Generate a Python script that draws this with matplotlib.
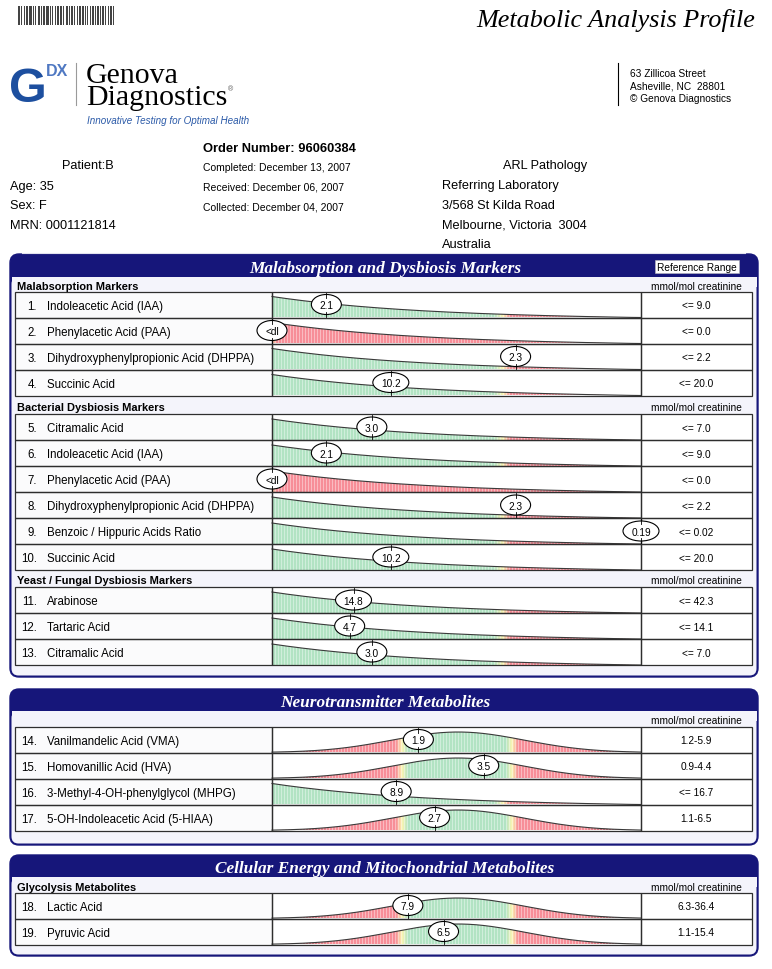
import numpy as np
import matplotlib
matplotlib.use("Agg")
import matplotlib.pyplot as plt
from matplotlib.patches import Rectangle, Ellipse, Polygon, FancyBboxPatch

# --- report data ---
mal_names = ["Indoleacetic Acid (IAA)", "Phenylacetic Acid (PAA)",
             "Dihydroxyphenylpropionic Acid (DHPPA)", "Succinic Acid"]
mal_results = [2.1, np.nan, 2.3, 10.2]
mal_low = [None, None, None, None]
mal_high = [9.0, 0.0, 2.2, 20.0]

bac_names = ["Citramalic Acid", "Indoleacetic Acid (IAA)", "Phenylacetic Acid (PAA)",
             "Dihydroxyphenylpropionic Acid (DHPPA)", "Benzoic / Hippuric Acids Ratio",
             "Succinic Acid"]
bac_results = [3.0, 2.1, np.nan, 2.3, 0.19, 10.2]
bac_low = [None] * 6
bac_high = [7.0, 9.0, 0.0, 2.2, 0.02, 20.0]

yst_names = ["Arabinose", "Tartaric Acid", "Citramalic Acid"]
yst_results = [14.8, 4.7, 3.0]
yst_low = [None] * 3
yst_high = [42.3, 14.1, 7.0]

neu_names = ["Vanilmandelic Acid (VMA)", "Homovanillic Acid (HVA)",
             "3-Methyl-4-OH-phenylglycol (MHPG)", "5-OH-Indoleacetic Acid (5-HIAA)"]
neu_results = [1.9, 3.5, 8.9, 2.7]
neu_low = [1.2, 0.9, None, 1.1]
neu_high = [5.9, 4.4, 16.7, 6.5]

gly_names = ["Lactic Acid", "Pyruvic Acid"]
gly_results = [7.9, 6.5]
gly_low = [6.3, 1.1]
gly_high = [36.4, 15.4]

# --- layout (pixels, y down) ---
W, H = 772, 970
ROW_H = 26
BAR_L, BAR_R = 272, 641
TAB_L, REF_R = 15, 752
UP_X = 505            # pixel of the upper limit on "<=" rows
TAIL_X = 638          # where the "<=" curve meets the baseline
LO_X, HI_X = 402, 512  # pixels of range limits
MID_X = 458
NAVY = "#16167a"
BODY = "#f4f4fb"
SANS = ["Liberation Sans", "DejaVu Sans"]
SERIF = ["Liberation Serif", "DejaVu Serif"]

GREEN = np.array([178, 227, 195]) / 255
YELLOW = np.array([252, 246, 178]) / 255
RED = np.array([247, 142, 152]) / 255
DARK = np.array([140, 64, 72]) / 255

fig = plt.figure(figsize=(W / 100, H / 100), dpi=100)
ax = fig.add_axes([0, 0, 1, 1])


def put(x, yc, s, size, cap=0.716, **kw):
    # place text so the middle of its capitals sits on yc
    kw.setdefault("family", SANS)
    kw.setdefault("color", "black")
    base = yc + size * 100 / 72 * cap / 2
    ax.text(x, base, s, fontsize=size, va="baseline", **kw)


def fmt(v):
    return f"{v:.2f}" if 0 < v < 0.1 else f"{v:.1f}"


def ramp(xs, stops):
    px = [s[0] for s in stops]
    out = np.stack([np.interp(xs, px, [s[1][k] for s in stops]) for k in range(3)], axis=-1)
    light = (np.arange(len(xs)) % 3) == 0
    out[light] = out[light] * 0.6 + 0.4
    return out


def draw_bar(top, lo, hi, val):
    bot = top + ROW_H
    cy = top + ROW_H / 2
    xs = np.arange(BAR_L, BAR_R + 1, 1.0)
    if lo is None:
        d = np.clip(xs - BAR_L, 0, TAIL_X - BAR_L)
        span = TAIL_X - BAR_L
        h = (ROW_H - 5) * (np.exp(-d / 145) - np.exp(-span / 145) * d / span)
        xt = UP_X if hi > 0 else BAR_L
        stops = [(xt - 11, GREEN), (xt - 2, YELLOW), (xt + 5, RED), (580, RED), (TAIL_X, DARK)]
        if np.isnan(val):
            vx = BAR_L
        elif hi <= 0:
            vx = BAR_R
        else:
            vx = min(BAR_L + val / hi * (UP_X - BAR_L), BAR_R)
    else:
        h = (ROW_H - 5.5) * np.exp(-(xs - MID_X) ** 2 / (2 * 66 ** 2))
        stops = [(280, DARK), (330, RED), (LO_X - 6, RED), (LO_X, YELLOW), (LO_X + 6, GREEN),
                 (HI_X - 6, GREEN), (HI_X, YELLOW), (HI_X + 6, RED), (585, RED), (630, DARK)]
        vx = float(np.clip(LO_X + (val - lo) / (hi - lo) * (HI_X - LO_X), BAR_L, BAR_R))
    ytop = bot - h
    poly = Polygon([(BAR_L, bot)] + list(zip(xs, ytop)) + [(BAR_R, bot)],
                   closed=True, fc="none", ec="none")
    ax.add_patch(poly)
    cols = ramp(xs[:-1] + 0.5, stops)
    im = ax.imshow(cols[None], extent=(BAR_L, BAR_R, bot, top), aspect="auto",
                   interpolation="nearest", zorder=2)
    im.set_clip_path(poly)
    ax.plot(xs, ytop, color="#3a3a3a", lw=0.8, zorder=3)

    label = "<dl" if np.isnan(val) else (f"{val:.2f}" if val < 1 else f"{val:.1f}")
    w = 12 + 6 * len(label)
    ax.add_patch(Ellipse((vx, cy), w, 20, fc="white", ec="black", lw=0.8, zorder=5))
    ax.plot([vx, vx], [cy - 12, cy - 7], color="black", lw=0.6, zorder=6)
    ax.plot([vx, vx], [cy + 7, cy + 12], color="black", lw=0.6, zorder=6)
    put(vx, cy, label, 7.3, ha="center", zorder=7)


def rows(first_top, start_no, names, results, lows, highs):
    for i, (name, val, lo, hi) in enumerate(zip(names, results, lows, highs)):
        top = first_top + i * ROW_H
        cy = top + ROW_H / 2
        ax.add_patch(Rectangle((TAB_L, top), BAR_L - TAB_L, ROW_H, fc="#fbfbfc", ec="none", zorder=1))
        ax.add_patch(Rectangle((BAR_L, top), REF_R - BAR_L, ROW_H, fc="white", ec="none", zorder=1))
        for x0, x1 in [(TAB_L, BAR_L), (BAR_L, BAR_R), (BAR_R, REF_R)]:
            ax.add_patch(Rectangle((x0, top), x1 - x0, ROW_H, fc="none", ec="#2e2e2e", lw=0.9, zorder=4))
        put(37, cy, f"{start_no + i}.", 8.3, ha="right")
        put(47, cy, name, 8.3)
        ref = f"<= {fmt(hi)}" if lo is None else f"{fmt(lo)}-{fmt(hi)}"
        put(696, cy, ref, 7.3, ha="center")
        draw_bar(top, lo, hi, val)


def group_head(y, text):
    if text:
        put(17, y, text, 7.9, weight="bold")
    put(696, y, "mmol/mol creatinine", 7.3, ha="center")


def section(top, hdr_bot, bottom, title):
    ax.add_patch(FancyBboxPatch((10, top), 748, bottom - top,
                                boxstyle="round,pad=0,rounding_size=9", fc=NAVY, ec=NAVY, lw=1.0))
    ax.add_patch(FancyBboxPatch((11.5, hdr_bot), 745, bottom - hdr_bot - 1.5,
                                boxstyle="round,pad=0,rounding_size=7", fc=BODY, ec="none"))
    ax.add_patch(Rectangle((11.5, hdr_bot), 745, 10, fc=BODY, ec="none"))
    put(385, (top + hdr_bot) / 2 + 0.5, title, 12.4, cap=0.662, family=SERIF,
        weight="bold", style="italic", color="white", ha="center")


# --- page header ---
bars = "1101001011011101010011010110111010100101101101001101011010010110110101001011010110101101001011010"
for i, b in enumerate(bars):
    if b == "1":
        ax.add_patch(Rectangle((18 + i, 7), 1, 19, fc="#444444", ec="none"))
put(755, 18, "Metabolic Analysis Profile", 18.8, cap=0.662, family=SERIF, style="italic", ha="right")

put(9, 85, "G", 35, weight="bold", color="#1d4f9f")
put(46, 70.5, "DX", 11.5, weight="bold", color="#4f78c2")
for yy in (66.4, 69.4, 72.4, 75.4):
    ax.plot([45, 68], [yy, yy], color="white", lw=0.6)
ax.plot([76, 76], [64, 106], color="#9a9a9a", lw=0.8)
ax.text(86, 63, "Genova\nDiagnostics", fontsize=21.5, family=SERIF, va="top",
        linespacing=0.8, color="black")
put(228, 89, "®", 5, color="#555555")
put(87, 120, "Innovative Testing for Optimal Health", 7.1, style="italic", color="#2b5aa8")

ax.plot([618, 618], [64, 106], color="black", lw=0.8)
for yy, s in zip((73, 85.5, 98), ("63 Zillicoa Street", "Asheville, NC  28801", "© Genova Diagnostics")):
    put(630, yy, s, 7.3)

put(88, 164, "Patient:B", 9.2, ha="center")
for yy, s in zip((185, 204.5, 224), ("Age: 35", "Sex: F", "MRN: 0001121814")):
    put(10, yy, s, 9.2)
put(203, 147, "Order Number: 96060384", 9.3, weight="bold")
for yy, s in zip((167, 187, 207), ("Completed: December 13, 2007", "Received: December 06, 2007",
                                   "Collected: December 04, 2007")):
    put(203, yy, s, 7.5)
put(545, 164, "ARL Pathology", 9.2, ha="center")
for yy, s in zip((184, 204, 224, 243.5), ("Referring Laboratory", "3/568 St Kilda Road",
                                          "Melbourne, Victoria  3004", "Australia")):
    put(442, yy, s, 9.2)
ax.plot([22, 745], [254, 254], color="#e2e2ee", lw=0.8)

# --- section 1 ---
section(255, 278, 678, "Malabsorption and Dysbiosis Markers")
ax.add_patch(Rectangle((655, 261), 84, 13, fc="white", ec="#bbbbbb", lw=0.4))
put(697, 267.5, "Reference Range", 7.3, ha="center")
group_head(286, "Malabsorption Markers")
rows(292.5, 1, mal_names, mal_results, mal_low, mal_high)
group_head(407.5, "Bacterial Dysbiosis Markers")
rows(415, 5, bac_names, bac_results, bac_low, bac_high)
group_head(580, "Yeast / Fungal Dysbiosis Markers")
rows(588, 11, yst_names, yst_results, yst_low, yst_high)

# --- section 2 ---
section(690, 712, 846, "Neurotransmitter Metabolites")
group_head(720.5, "")
rows(727.5, 14, neu_names, neu_results, neu_low, neu_high)

# --- section 3 ---
section(856, 878, 957, "Cellular Energy and Mitochondrial Metabolites")
group_head(887, "Glycolysis Metabolites")
rows(893.5, 18, gly_names, gly_results, gly_low, gly_high)

ax.set_xlim(0, W)
ax.set_ylim(H, 0)
ax.axis("off")
fig.savefig("out.png", dpi=100, facecolor="white")
